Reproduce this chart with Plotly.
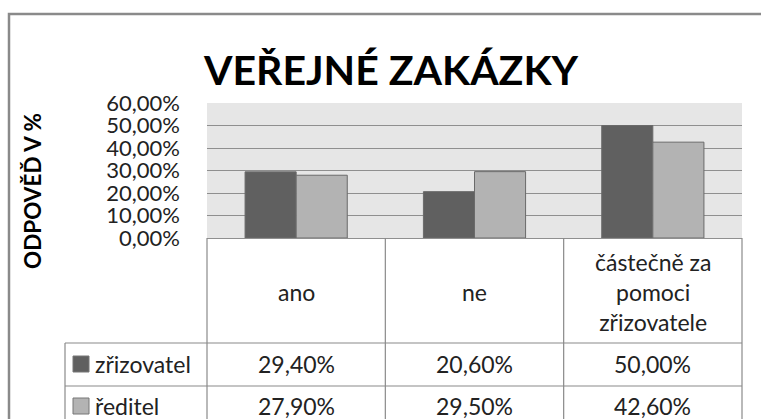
import plotly.graph_objects as go

categories = ["ano", "ne", "částečně za<br>pomoci<br>zřizovatele"]
series_names = ["zřizovatel", "ředitel"]
zrizovatel = [29.4, 20.6, 50.0]
reditel = [27.9, 29.5, 42.6]
tick_vals = [0, 10, 20, 30, 40, 50, 60]
tick_text = ["0,00%", "10,00%", "20,00%", "30,00%", "40,00%", "50,00%", "60,00%"]
title_text = "VEŘEJNÉ ZAKÁZKY"
y_title = "ODPOVĚĎ V %"

colors = ["#606060", "#b3b3b3"]
W, H = 761, 419
L, R, T, B = 207, 742, 103, 238  # plot area in pixels
FONT = "Lato"
GRID = "#8f8f8f"
TXT = "#222"
FS = 23

def px(x):
    return (x - L) / (R - L)

def py(y):
    return (B - y) / (B - T)

def fmt(v):
    return f"{v:.2f}".replace(".", ",") + "%"

xs = list(range(len(categories)))
fig = go.Figure()
for name, vals, c in zip(series_names, [zrizovatel, reditel], colors):
    fig.add_trace(go.Bar(x=xs, y=vals, name=name, marker=dict(color=c, line=dict(color="#6a6a6a", width=1))))

shapes = []
# outer frame
shapes.append(dict(type="rect", xref="paper", yref="paper", x0=px(9), x1=px(775), y0=py(14), y1=py(440),
                   line=dict(color="#8a8a8a", width=2.5), layer="above"))
lc = dict(color="#8a8a8a", width=1.2)
# horizontal table lines
for yy in (343, 386, 429):
    shapes.append(dict(type="line", xref="paper", yref="paper", x0=px(65), x1=1, y0=py(yy), y1=py(yy), line=lc))
# vertical lines
shapes.append(dict(type="line", xref="paper", yref="paper", x0=0, x1=0, y0=0, y1=py(440), line=lc))
shapes.append(dict(type="line", xref="paper", yref="paper", x0=1, x1=1, y0=0, y1=py(440), line=lc))
shapes.append(dict(type="line", xref="paper", yref="paper", x0=px(65), x1=px(65), y0=py(343), y1=py(440), line=lc))
for i in range(len(categories) - 1):
    shapes.append(dict(type="line", xref="x", yref="paper", x0=i + 0.5, x1=i + 0.5, y0=0, y1=py(440), line=lc))

ann = []
ann.append(dict(text=f"<b>{title_text}</b>", xref="paper", yref="paper", x=px(391), y=py(69),
                xanchor="center", yanchor="middle",
                showarrow=False, font=dict(family=FONT, size=41, color="#000")))
ann.append(dict(text=f"<b>{y_title}</b>", xref="paper", yref="paper", x=px(32), y=py(191), textangle=-90,
                xanchor="center", yanchor="middle",
                showarrow=False, font=dict(family=FONT, size=22.5, color="#000")))
for i, c in enumerate(categories):
    ann.append(dict(text=c, xref="x", yref="paper", x=i, y=py(292), showarrow=False,
                    xanchor="center", yanchor="middle",
                    font=dict(family=FONT, size=FS, color=TXT), align="center"))
row_y = [364, 406]
for r, (name, vals, col) in enumerate(zip(series_names, [zrizovatel, reditel], colors)):
    shapes.append(dict(type="rect", xref="paper", yref="paper", x0=px(73), x1=px(89),
                       y0=py(row_y[r] - 8), y1=py(row_y[r] + 8), fillcolor=col,
                       line=dict(color="#777", width=1)))
    ann.append(dict(text=name, xref="paper", yref="paper", x=px(93), y=py(row_y[r]),
                    xanchor="left", yanchor="middle",
                    showarrow=False, font=dict(family=FONT, size=FS, color=TXT)))
    for i, v in enumerate(vals):
        ann.append(dict(text=fmt(v), xref="x", yref="paper", x=i, y=py(row_y[r]), showarrow=False,
                        xanchor="center", yanchor="middle",
                        font=dict(family=FONT, size=FS, color=TXT)))

fig.update_layout(
    width=W, height=H,
    margin=dict(l=L, r=W - R, t=T, b=H - B, pad=0),
    paper_bgcolor="white", plot_bgcolor="#e6e6e6",
    barmode="group", bargap=0.427, bargroupgap=0,
    showlegend=False,
    shapes=shapes, annotations=ann,
    font=dict(family=FONT),
)
fig.update_xaxes(range=[-0.5, 2.5], showticklabels=False, showgrid=False, zeroline=False,
                 showline=True, linecolor=GRID, linewidth=1.2, mirror=False)
fig.update_yaxes(range=[0, 60], tickvals=tick_vals, ticktext=tick_text, showgrid=True, gridcolor=GRID,
                 gridwidth=1.3, zeroline=False, showline=False,
                 tickfont=dict(family=FONT, size=22, color=TXT), ticklabelstandoff=26)

fig.write_html("out.html", config={"displayModeBar": False},
               post_script="document.body.style.margin='0';document.body.style.overflow='hidden';")
